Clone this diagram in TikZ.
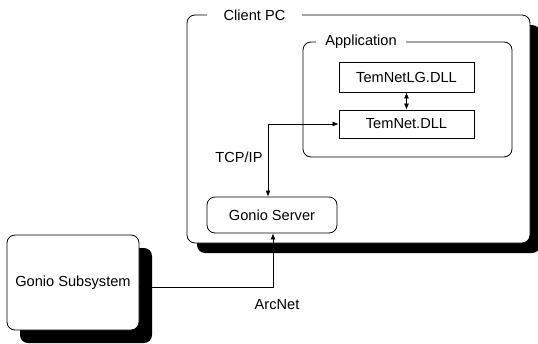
\documentclass[tikz,border=0pt]{standalone}
\usepackage{fontspec}
\setmainfont{Liberation Sans}
\usetikzlibrary{arrows.meta,shadows}
\begin{document}
\begin{tikzpicture}[x=1pt,y=-1pt,
  every node/.style={font=\fontsize{14.6}{16}\selectfont, inner sep=0pt},
  rbox/.style={draw, line width=0.8pt, rounded corners=8pt, fill=white},
  sqbox/.style={draw, line width=0.8pt, fill=white},
  lbl/.style={fill=white, inner ysep=2pt},
  conn/.style={line width=0.7pt, {Latex[length=6pt,width=5pt]}-{Latex[length=6pt,width=5pt]}},
  conn1/.style={line width=0.7pt, -{Latex[length=6pt,width=5pt]}},
  shad/.style={drop shadow={shadow xshift=#1, shadow yshift=-#1, fill=black, opacity=1}}
]
\useasboundingbox[fill=white] (0,0) rectangle (538,343);
% Client PC
\node[rbox, shad=10pt, minimum width=343pt, minimum height=228pt] (client) at (358.5,129) {};
\node[lbl, inner xsep=17pt] (clientlbl) at (254.5,15) {Client PC};
% Application
\node[rbox, minimum width=209pt, minimum height=115pt] (app) at (407.5,99.5) {};
\node[lbl, inner xsep=9pt] (applbl) at (361,42) {Application};
% DLLs
\node[sqbox, minimum width=135pt, minimum height=30pt] (lg) at (406.5,77) {TemNetLG.DLL};
\node[sqbox, minimum width=135pt, minimum height=28pt] (tn) at (406.5,124) {TemNet.DLL};
% Gonio Server
\node[rbox, minimum width=130pt, minimum height=36pt] (server) at (272,215) {Gonio Server};
% Gonio Subsystem
\node[rbox, shad=13pt, minimum width=132pt, minimum height=95pt] (sub) at (73,282.5) {Gonio Subsystem};
% labels
\node (tcp) at (239,157) {TCP/IP};
\node (arc) at (277,305) {ArcNet};
% connectors
\draw[conn] (lg) -- (tn);
\draw[conn] (tn.west) -| ([xshift=-4pt]server.north);
\draw[conn1] ([yshift=-4.5pt]sub.east) -| ([xshift=1pt]server.south);
\end{tikzpicture}
\end{document}
